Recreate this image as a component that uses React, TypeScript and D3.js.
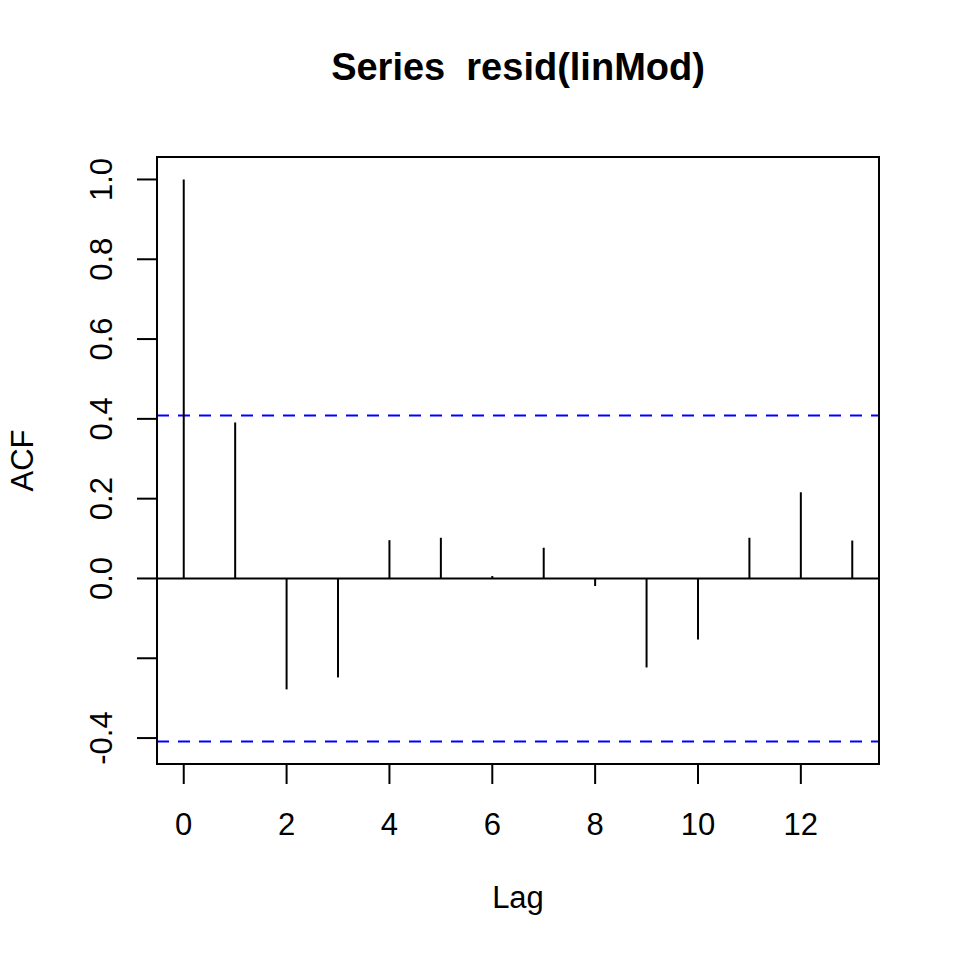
import React from "react";
import * as d3 from "d3";

const lags = [0, 1, 2, 3, 4, 5, 6, 7, 8, 9, 10, 11, 12, 13];
const acfValues = [1.0, 0.391, -0.278, -0.248, 0.096, 0.102, 0.006, 0.077, -0.019, -0.223, -0.153, 0.102, 0.216, 0.095];
const ciBound = 0.4087;
const xTicks = [0, 2, 4, 6, 8, 10, 12];
const yTicks = [-0.4, -0.2, 0.0, 0.2, 0.4, 0.6, 0.8, 1.0];
const yTickLabels = ["-0.4", "", "0.0", "0.2", "0.4", "0.6", "0.8", "1.0"];
const title = "Series  resid(linMod)";

export default function App() {
  const left = 157, right = 879, top = 157, bottom = 764;
  const x = d3.scaleLinear().domain([-0.52, 13.52]).range([left, right]);
  const yMin = -ciBound - 0.0563, yMax = 1.0563;
  const y = d3.scaleLinear().domain([yMin, yMax]).range([bottom, top]);
  const font = "'Liberation Sans', Arial, Helvetica, sans-serif";
  const cx = (left + right) / 2;
  const fs = 31;
  return (
    <svg width={960} height={960} style={{ position: "absolute", left: 0, top: 0, background: "#fff" }} fontFamily={font}>
      <rect x={0} y={0} width={960} height={960} fill="#fff" />
      <text x={cx} y={80} textAnchor="middle" fontSize={38} fontWeight="bold" style={{ whiteSpace: "pre" }}>{title}</text>
      {[ciBound, -ciBound].map((v, i) => (
        <line key={i} x1={left} x2={right} y1={y(v)} y2={y(v)} stroke="#0000ff" strokeWidth={2} strokeDasharray="12,9" />
      ))}
      <line x1={left} x2={right} y1={y(0)} y2={y(0)} stroke="#000" strokeWidth={2} />
      {lags.map((l, i) => (
        <line key={l} x1={x(l)} x2={x(l)} y1={y(0)} y2={y(acfValues[i])} stroke="#000" strokeWidth={2} />
      ))}
      <rect x={left} y={top} width={right - left} height={bottom - top} fill="none" stroke="#000" strokeWidth={2} />
      <line x1={x(xTicks[0])} x2={x(xTicks[xTicks.length - 1])} y1={bottom} y2={bottom} stroke="#000" strokeWidth={2} />
      {xTicks.map((t) => (
        <g key={t}>
          <line x1={x(t)} x2={x(t)} y1={bottom} y2={bottom + 20} stroke="#000" strokeWidth={2} />
          <text x={x(t)} y={835} textAnchor="middle" fontSize={fs}>{t}</text>
        </g>
      ))}
      <text x={cx} y={908} textAnchor="middle" fontSize={fs}>Lag</text>
      {yTicks.map((t, i) => (
        <g key={t}>
          <line x1={left - 20} x2={left} y1={y(t)} y2={y(t)} stroke="#000" strokeWidth={2} />
          {yTickLabels[i] && (
            <text transform={`translate(112,${y(t)}) rotate(-90)`} textAnchor="middle" fontSize={fs}>{yTickLabels[i]}</text>
          )}
        </g>
      ))}
      <text transform={`translate(33,${(top + bottom) / 2}) rotate(-90)`} textAnchor="middle" fontSize={fs}>ACF</text>
    </svg>
  );
}
